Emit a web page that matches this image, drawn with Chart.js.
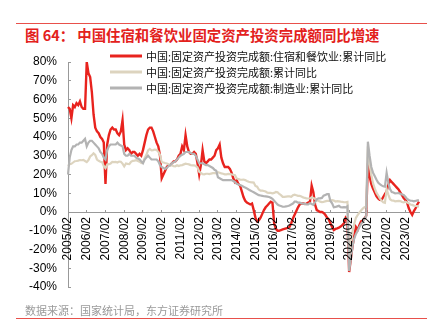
<!DOCTYPE html>
<html><head><meta charset="utf-8">
<script src="https://cdn.jsdelivr.net/npm/chart.js@4"></script>
<style>
html,body{margin:0;padding:0;background:#fff;}
#wrap{position:relative;width:440px;height:328px;overflow:hidden;}
#chart{position:absolute;left:0;top:0;}
.rule{position:absolute;left:16px;width:411px;height:1px;background:#e8504b;}
#title{position:absolute;left:25px;top:26px;font-family:"Noto Sans CJK SC";font-weight:bold;font-size:14.4px;color:#e3211c;white-space:nowrap;line-height:18px;}
#source{position:absolute;left:25px;top:302px;font-family:"Noto Sans CJK SC";font-size:11px;color:#9a9a9a;white-space:nowrap;line-height:16px;}
</style></head>
<body><div id="wrap">
<div class="rule" style="top:23px"></div>
<div id="title">图 64：&nbsp;中国住宿和餐饮业固定资产投资完成额同比增速</div>
<canvas id="chart" width="440" height="328"></canvas>
<div id="source">数据来源：国家统计局，东方证券研究所</div>
<div class="rule" style="top:318px"></div>
</div>
<script>
// ---- categories ----
const years = [2005,2006,2007,2008,2009,2010,2011,2012,2013,2014,2015,2016,2017,2018,2019,2020,2021,2022,2023];
const months = ['02','03','04','05','06','07','08','09','10','11','12'];
const lastLabel = '2023/10';

// ---- series names ----
const seriesNames = [
  '中国:固定资产投资完成额:住宿和餐饮业:累计同比',
  '中国:固定资产投资完成额:累计同比',
  '中国:固定资产投资完成额:制造业:累计同比'
];

// ---- 住宿和餐饮业 累计同比 (%) ----
const hotel = [
  56,55,50,57,56,58,57,59,56,55,55,          // 2005
  80,74,72,64,52,45,43,42,40,39,37,          // 2006
  15,36,41,44,45,44,44,42,41,43,49,          // 2007
  36,33,34,33,31,32,32,31,30,31,30,          // 2008
  33,37,41,44,45,45,43,40,37,35,30,          // 2009
  18,20,22,24,25,25,26,27,27,28,30,          // 2010
  31,35,33,41,35,32,31,31,32,31,26,          // 2011
  20,25,33,27,26,27,28,28,29,30,33,          // 2012
  34,36,29,26,24,24,24,23,21,18,16,          // 2013
  17,15,14,11,8,6,5,4.5,4,4.5,1,             // 2014
  -3,-5,-4.5,-3,-1,1,2.5,3.5,4.5,5.5,5,      // 2015
  -6,-9,-10,-10,-9.6,-9.3,-9,-8.7,-8.5,-8,-6,// 2016
  -3.5,-1.5,0.5,2.5,4,4.5,4.6,4.3,4.5,5,5.5, // 2017
  14,10.5,4,1,0.5,0,0,-0.5,-1.5,-3,-4,       // 2018
  -6,-8,-9.6,-9,-8.7,-8.3,-7.8,-7,-6,-3,-4,  // 2019
  -32,-25,-18,-13,-8,-9.5,-7,-5,-4.5,-3.5,-2,// 2020
  26,19,15,12.5,10.5,8.5,7.3,6.5,6.4,8,9.5,  // 2021
  11,14.5,17,16,15,14,13,12,10.5,9,7.5,      // 2022
  6.4,5,2,0,-1.5,0.5,2,4,5.5                 // 2023
];

// ---- 全国 累计同比 (%) ----
const total = [
  24.5,25.5,25.7,26.4,27.1,27.2,27.4,27.7,27.6,27.8,27.2,
  26.6,27.7,29.6,30.3,31.3,30.5,28.0,27.3,26.8,26.6,24.5,
  23.4,25.3,25.5,25.9,26.7,26.6,26.7,26.4,26.9,26.8,25.8,
  24.3,25.9,25.7,25.6,26.8,27.3,27.4,27.6,27.2,26.8,26.1,
  26.5,28.8,30.5,32.9,33.6,32.9,33.0,33.3,33.1,32.1,30.5,
  26.6,26.4,26.1,25.9,25.5,24.9,24.8,24.5,24.4,24.9,24.5,
  24.9,25.0,25.4,25.8,25.6,25.4,25.0,24.9,24.9,24.5,23.8,
  21.5,20.9,20.2,20.1,20.4,20.4,20.2,20.5,20.7,20.7,20.6,
  21.2,20.9,20.6,20.4,20.1,20.1,20.3,20.2,20.1,19.9,19.6,
  17.9,17.6,17.3,17.2,17.3,17.0,16.5,16.1,15.9,15.8,15.7,
  13.9,13.5,12.0,11.4,11.4,11.2,10.9,10.3,10.2,10.2,10.0,
  10.2,10.7,10.5,9.6,9.0,8.1,8.1,8.2,8.3,8.3,8.1,
  8.9,9.2,8.9,8.6,8.6,8.3,7.8,7.5,7.3,7.2,7.2,
  7.9,7.5,7.0,6.1,6.0,5.5,5.3,5.4,5.7,5.9,5.9,
  6.1,6.3,6.1,5.6,5.8,5.7,5.5,5.4,5.2,5.2,5.4,
  -24.5,-16.1,-10.3,-6.3,-3.1,-1.6,-0.3,0.8,1.8,2.6,2.9,
  35.0,25.6,19.9,15.4,12.6,10.3,8.9,7.3,6.1,5.2,4.9,
  12.2,9.3,6.8,6.2,6.1,5.7,5.8,5.9,5.8,5.3,5.1,
  5.5,5.1,4.7,4.0,3.8,3.4,3.2,3.1,2.9
];

// ---- 制造业 累计同比 (%) ----
const manuf = [
  20,29,33,35,35,36,36,37,37,38,39,
  35,37,38,38,37,36,35,34,32,31,29,
  28,33,35,36,36,36,36,37,36,35.5,35,
  31,30,30,31,30,30,30,29,28.5,28,27,
  26,28,29,30,29,28,28,28,28,27,25,
  24,23.5,23,23.5,24.5,25,26,26.5,27,28,29,
  30,30.5,31,32,32,32,31.5,31,31,30,28,
  26,26,26,25.5,25,25,24.5,24,23.5,22.5,22,
  18.5,18,17.5,17,17,17,17,17,17,16.5,16,
  15,14.7,14.4,14,13.5,13,12.6,12,11.5,11,10.5,
  10,9.5,9,8.8,8.6,8.4,8.3,8.2,8,7.6,7,
  6,5,4,3.5,3.2,2.8,2.8,3,3.2,3.5,4,
  4.5,5.5,5.5,5,5,4.6,4.5,4.3,4.1,4.1,4.8,
  4.3,3.8,5.2,6.8,7.3,7.3,7.5,8.7,9.1,9.5,9.5,
  5.9,4.6,2.5,2.7,3,3.3,2.6,2.5,2.6,2.5,3.1,
  -31.5,-25,-18,-14,-11.7,-10,-8,-6.5,-5.3,-3.5,-2.2,
  37.5,30,24,21,19.2,17.3,15.7,14.8,14.2,13.7,13.5,
  20.9,15.6,12.2,10.6,10.4,9.9,10,10.1,9.7,9.3,9.1,
  8.1,7,6.4,6,6,5.7,5.9,6.2,6.2
];

// ---- y tick range ----
const yMin = -40, yMax = 80, yStep = 10;

const labels = [];
for (const y of years) for (const m of months) labels.push(y + '/' + m);
labels.length = labels.indexOf(lastLabel) + 1;

const colors = ['#e8231e', '#ddd4bf', '#b3b3b3'];
const tickFont = { family: 'Liberation Sans', size: 12 };

const legendPlugin = {
  id: 'floatLegend',
  afterDraw(chart) {
    const ctx = chart.ctx;
    ctx.save();
    seriesNames.forEach((name, i) => {
      const y = 56 + i * 16;
      ctx.strokeStyle = colors[i];
      ctx.lineWidth = 3;
      ctx.beginPath(); ctx.moveTo(110, y); ctx.lineTo(142, y); ctx.stroke();
      ctx.fillStyle = '#111';
      ctx.font = '11px "Noto Sans CJK SC"';
      ctx.textBaseline = 'middle';
      ctx.textAlign = 'left';
      ctx.fillText(name, 146, y + 0.5);
    });
    ctx.restore();
  }
};

// x tick labels drawn under the zero line, rotated, from the x scale's own ticks
const xLabelPlugin = {
  id: 'xZeroLabels',
  afterDraw(chart) {
    const xs = chart.scales.x, ys = chart.scales.y, ctx = chart.ctx;
    const y0 = ys.getPixelForValue(0) + 5;
    ctx.save();
    ctx.font = '12px "Liberation Sans"';
    ctx.fillStyle = '#000';
    ctx.textAlign = 'right';
    ctx.textBaseline = 'middle';
    xs.ticks.forEach(t => {
      const x = xs.getPixelForValue(t.value);
      ctx.save();
      ctx.translate(x, y0);
      ctx.rotate(-Math.PI / 2);
      ctx.fillText(labels[t.value], 0, 0);
      ctx.restore();
    });
    ctx.restore();
  }
};

new Chart(document.getElementById('chart'), {
  type: 'line',
  data: {
    labels: labels,
    datasets: [
      { label: seriesNames[0], data: hotel, borderColor: colors[0], borderWidth: 2.4, order: 2 },
      { label: seriesNames[1], data: total, borderColor: colors[1], borderWidth: 2.2, order: 1 },
      { label: seriesNames[2], data: manuf, borderColor: colors[2], borderWidth: 2.2, order: 0 }
    ]
  },
  options: {
    responsive: false,
    devicePixelRatio: 1,
    animation: false,
    layout: { padding: { left: 0, top: 62, right: 21, bottom: 41 } },
    elements: { point: { radius: 0 }, line: { tension: 0, fill: false } },
    plugins: { legend: { display: false }, tooltip: { enabled: false }, title: { display: false } },
    scales: {
      x: {
        type: 'category',
        position: { y: 0 },
        offset: false,
        afterBuildTicks: (s) => { s.ticks = s.ticks.filter(t => labels[t.value].endsWith('/02')); },
        ticks: { display: false, autoSkip: false },
        grid: { drawOnChartArea: false, drawTicks: true, tickLength: -3, color: '#999' },
        border: { color: '#999', width: 1 }
      },
      y: {
        min: yMin, max: yMax,
        ticks: { stepSize: yStep, font: tickFont, color: '#000', padding: 14, callback: (v) => v + '%' },
        grid: { drawOnChartArea: false, drawTicks: true, tickLength: -3, color: '#999' },
        border: { color: '#999', width: 1 },
        afterFit: (s) => { s.width = 68; }
      }
    }
  },
  plugins: [legendPlugin, xLabelPlugin]
});
</script>
</body></html>
